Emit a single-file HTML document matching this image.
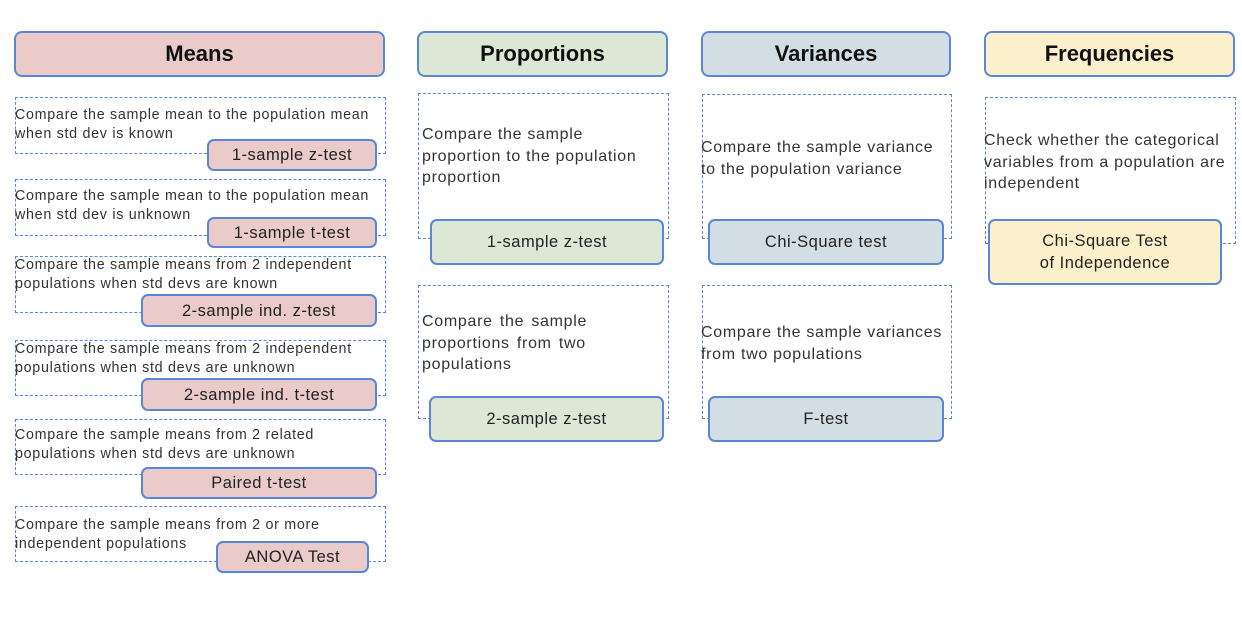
<!DOCTYPE html>
<html><head><meta charset="utf-8"><style>
body{margin:0;width:1242px;height:619px;background:#fff;position:relative;overflow:hidden;font-family:"Liberation Sans",sans-serif;color:#222}
.h{position:absolute;height:42px;border:2.5px solid #5a86d5;border-radius:8px;box-sizing:border-box;display:flex;align-items:center;justify-content:center;font-weight:bold;font-size:22px;color:#111}
.d{position:absolute;border:1.5px dashed #5a86d5;box-sizing:border-box}
.t{position:absolute;font-size:14.3px;letter-spacing:0.7px;line-height:19px;color:#333;white-space:nowrap}
.t2{position:absolute;font-size:16px;letter-spacing:0.7px;line-height:21.5px;color:#333;white-space:nowrap}
.b{position:absolute;border:2.5px solid #5a86d5;border-radius:7px;box-sizing:border-box;display:flex;align-items:center;justify-content:center;font-size:16.5px;letter-spacing:0.5px;color:#222;text-align:center;line-height:22px}
.m{background:#ebcaca}.p{background:#dce8d5}.v{background:#d3dee4}.f{background:#fcf0cc}
</style></head><body>
<div class="h m" style="left:14px;top:31px;width:371px;height:46px">Means</div>
<div class="h p" style="left:417px;top:31px;width:251px;height:46px">Proportions</div>
<div class="h v" style="left:701px;top:31px;width:250px;height:46px">Variances</div>
<div class="h f" style="left:984px;top:31px;width:251px;height:46px">Frequencies</div>

<div class="d" style="left:15px;top:97px;width:371px;height:57px"></div>
<div class="t" style="left:15px;top:106px">Compare the sample mean to the population mean<br>when std dev is known</div>
<div class="b m" style="left:207px;top:139px;width:170px;height:32px">1-sample z-test</div>

<div class="d" style="left:15px;top:179px;width:371px;height:57px"></div>
<div class="t" style="left:15px;top:187px">Compare the sample mean to the population mean<br>when std dev is unknown</div>
<div class="b m" style="left:207px;top:217px;width:170px;height:31px">1-sample t-test</div>

<div class="d" style="left:15px;top:256px;width:371px;height:57px"></div>
<div class="t" style="left:15px;top:256px">Compare the sample means from 2 independent<br>populations when std devs are known</div>
<div class="b m" style="left:141px;top:294px;width:236px;height:33px">2-sample ind. z-test</div>

<div class="d" style="left:15px;top:340px;width:371px;height:56px"></div>
<div class="t" style="left:15px;top:340px">Compare the sample means from 2 independent<br>populations when std devs are unknown</div>
<div class="b m" style="left:141px;top:378px;width:236px;height:33px">2-sample ind. t-test</div>

<div class="d" style="left:15px;top:419px;width:371px;height:56px"></div>
<div class="t" style="left:15px;top:426px">Compare the sample means from 2 related<br>populations when std devs are unknown</div>
<div class="b m" style="left:141px;top:467px;width:236px;height:32px">Paired t-test</div>

<div class="d" style="left:15px;top:506px;width:371px;height:56px"></div>
<div class="t" style="left:15px;top:516px">Compare the sample means from 2 or more<br>independent populations</div>
<div class="b m" style="left:216px;top:541px;width:153px;height:32px">ANOVA Test</div>

<div class="d" style="left:418px;top:93px;width:251px;height:146px"></div>
<div class="t2" style="left:422px;top:124px">Compare the sample<br>proportion to the population<br>proportion</div>
<div class="b p" style="left:430px;top:219px;width:234px;height:46px">1-sample z-test</div>

<div class="d" style="left:418px;top:285px;width:251px;height:134px"></div>
<div class="t2" style="left:422px;top:311px;word-spacing:2px">Compare the sample<br>proportions from two<br>populations</div>
<div class="b p" style="left:429px;top:396px;width:235px;height:46px">2-sample z-test</div>

<div class="d" style="left:702px;top:94px;width:250px;height:145px"></div>
<div class="t2" style="left:701px;top:137px">Compare the sample variance<br>to the population variance</div>
<div class="b v" style="left:708px;top:219px;width:236px;height:46px">Chi-Square test</div>

<div class="d" style="left:702px;top:285px;width:250px;height:134px"></div>
<div class="t2" style="left:701px;top:322px">Compare the sample variances<br>from two populations</div>
<div class="b v" style="left:708px;top:396px;width:236px;height:46px">F-test</div>

<div class="d" style="left:985px;top:97px;width:251px;height:147px"></div>
<div class="t2" style="left:984px;top:130px">Check whether the categorical<br>variables from a population are<br>independent</div>
<div class="b f" style="left:988px;top:219px;width:234px;height:66px">Chi-Square Test<br>of Independence</div>
</body></html>
